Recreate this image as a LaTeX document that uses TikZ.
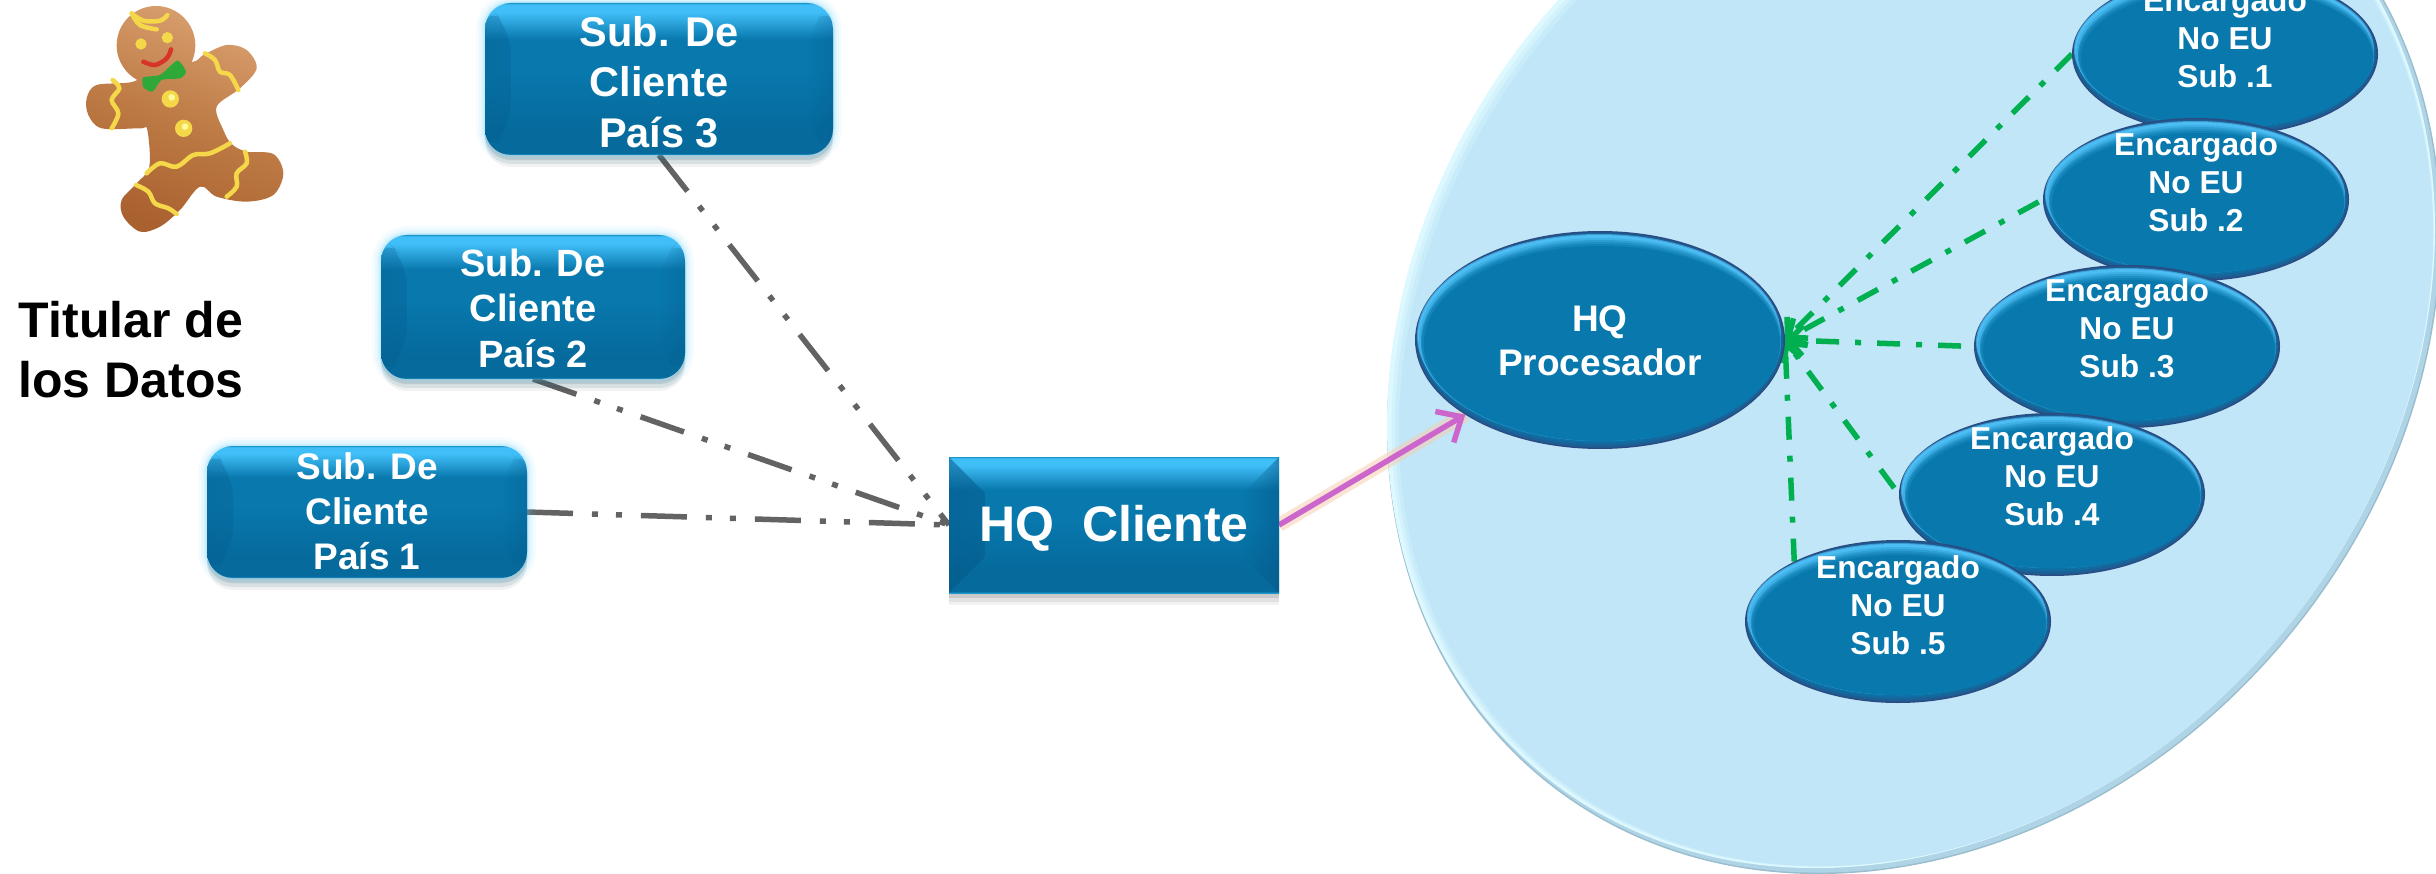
\documentclass[tikz,border=0pt]{standalone}
\usepackage{fontspec}
\setmainfont{Liberation Sans}
\usetikzlibrary{arrows.meta,calc,shapes.geometric,shadows,fadings}
\definecolor{body}{HTML}{0878AD}
\definecolor{bluetop}{HTML}{40BEF7}
\definecolor{bluerim}{HTML}{1B97CC}
\definecolor{bluelow}{HTML}{066A9C}
\definecolor{bevdark}{HTML}{05598A}
\definecolor{navy}{HTML}{2B4A80}
\definecolor{crescent}{HTML}{4CBDF3}
\definecolor{halo}{HTML}{5CCBF7}
\definecolor{sky}{HTML}{C0E6F8}
\definecolor{skyrim}{HTML}{DDF9FF}
\definecolor{skyedge}{HTML}{9ABDCE}
\definecolor{greyline}{HTML}{636363}
\definecolor{greenline}{HTML}{00B050}
\definecolor{pinkline}{HTML}{CC66CC}
\definecolor{pinkglow}{HTML}{F9CDB0}
\definecolor{icing}{HTML}{F4D84A}
\definecolor{cookielight}{HTML}{D9A070}
\definecolor{cookiemid}{HTML}{BE7B45}
\definecolor{cookiedark}{HTML}{A9612F}
\definecolor{mouthred}{HTML}{D8352A}
\definecolor{bowgreen}{HTML}{2FA83A}
\pgfdeclareverticalshading{bevelblue}{100bp}{%
 color(0bp)=(bluerim);color(25bp)=(bluerim);color(25.7bp)=(bluelow);color(33bp)=(bluelow);
 color(52bp)=(body);color(63bp)=(body);color(72bp)=(bluetop);color(74.5bp)=(bluetop);
 color(75bp)=(bluerim);color(100bp)=(bluerim)}
\pgfdeclarelayer{sheet}
\pgfdeclarelayer{links}
\pgfsetlayers{sheet,links,main}
% text of fixed size that does not change the size of its node
\newcommand\stack[4]{\makebox[0pt]{\raisebox{#1pt}[0pt][0pt]{\fontsize{#2}{#3}\selectfont\bfseries\color{white}\begin{tabular}{@{}c@{}}#4\end{tabular}}}}
\tikzset{
 softglow/.style={preaction={draw=halo,opacity=.06,line width=18pt},
   preaction={draw=halo,opacity=.08,line width=12pt},
   preaction={draw=halo,opacity=.12,line width=7pt},
   preaction={draw=halo,opacity=.2,line width=3pt}},
 sideshade/.style 2 args={path picture={
   \fill[bevdark,fill opacity=#2,path fading=east] (path picture bounding box.north west)
     -- ($(path picture bounding box.north west)+(#1,#1)$)
     -- ($(path picture bounding box.south west)+(#1,-#1)$)
     -- (path picture bounding box.south west) -- cycle;
   \fill[bevdark,fill opacity=#2,path fading=west] (path picture bounding box.north east)
     -- ($(path picture bounding box.north east)+(-#1,#1)$)
     -- ($(path picture bounding box.south east)+(-#1,-#1)$)
     -- (path picture bounding box.south east) -- cycle;}},
 softshadow/.style={
   general shadow={shadow xshift=0pt,shadow yshift=-12pt,fill=black,opacity=.05},
   general shadow={shadow xshift=0pt,shadow yshift=-9pt,fill=black,opacity=.07},
   general shadow={shadow xshift=0pt,shadow yshift=-5pt,fill=black,opacity=.1}},
 subbox/.style={rectangle,rounded corners=26pt,inner sep=0pt,outer sep=0pt,shade,shading=bevelblue,
   softshadow,softglow,sideshade={26}{.3}},
 hqbox/.style={rectangle,inner sep=0pt,outer sep=0pt,shade,shading=bevelblue,
   softshadow,sideshade={36}{.55}},
 ovalbase/.style 2 args={ellipse,inner sep=0pt,outer sep=0pt,minimum width=#1*2pt,minimum height=#2*2pt,
   fill=navy,path picture={
   \begin{scope}[shift={(path picture bounding box.center)}]
    \foreach \s/\t/\b/\x/\c in {
      1/1/1/0/navy!75!body, 2/2/2/0/navy!55!body, 3/3/4/0/navy!35!body, 4/4/6/0/navy!15!body,
      3/3/12/-1/crescent!70!navy, 4/4/12/-1/crescent, 4/7/8/0/crescent!80!body, 5/9/8/1/crescent!55!body,
      5/11/8/1/crescent!32!body, 6/13/8/1/crescent!14!body, 7/15/8/2/body}{
      \pgfmathsetmacro\rxx{#1-\s}
      \pgfmathsetmacro\ryy{#2-(\t+\b)/2}
      \pgfmathsetmacro\cyy{(\t-\b)/2}
      \fill[\c] (\x,\cyy) ellipse [x radius=\rxx,y radius=\ryy];
    }
   \end{scope}}},
 subnode/.style={ovalbase={153}{81.5}},
 mainoval/.style={ovalbase={185}{109}},
 greydash/.style={draw=greyline,line width=5.5pt,dash pattern=on 46pt off 19pt on 6pt off 18pt on 6pt off 19pt},
 greendash/.style={draw=greenline,line width=5.5pt,dash pattern=on 23pt off 16pt on 6pt off 16pt,
   -{Straight Barb[length=14pt,width=30pt,line width=5.5pt]}},
 titletext/.style={inner sep=0pt,align=center,font=\fontsize{50}{60}\selectfont\bfseries},
 icingline/.style={draw=icing,line width=4.5pt,line cap=round},
}
\begin{document}
\begin{tikzpicture}[x=1pt,y=-1pt]
\useasboundingbox (0,0) rectangle (2436,874);
% gingerbread figure
\begin{scope}[shift={(60,0)},scale=1/3]
 \shade[top color=cookielight,bottom color=cookiedark,middle color=cookiemid,shading angle=-20]
   (288,136) circle (118)
   plot[smooth cycle,tension=.55] coordinates {(400,185)(430,165)(500,135)(560,150)(590,205)(540,265)(470,320)(490,390)(515,432)(560,455)(640,462)(670,520)(640,585)(560,605)(470,590)(420,560)(360,630)(300,680)(240,695)(190,650)(185,600)(230,550)(268,500)(262,390)(240,385)(125,385)(85,345)(80,295)(110,255)(220,245)(288,200)};
 \draw[icingline] plot[smooth,tension=.6] coordinates {(215,40)(240,75)(290,88)};
 \draw[icingline] plot[smooth,tension=.6] coordinates {(215,40)(250,62)(300,62)(322,45)};
 \fill[icing] (243,132) circle (17) (322,113) circle (17) (331,297) circle (26) (371,385) circle (26);
 \fill[yellow!40!white] (335,292) circle (10) (375,380) circle (10);
 \draw[draw=mouthred,line width=4.5pt,line cap=round] plot[smooth,tension=.6] coordinates {(250,185)(285,195)(320,175)(333,148)};
 \fill[bowgreen] plot[smooth cycle,tension=.4] coordinates {(250,232)(300,225)(352,182)(378,215)(360,235)(305,240)(278,275)(250,262)};
 \draw[icingline] plot[smooth,tension=.6] coordinates {(158,240)(178,265)(155,300)(175,340)(155,385)};
 \draw[icingline] plot[smooth,tension=.6] coordinates {(435,160)(465,180)(480,215)(510,225)(535,270)};
 \draw[icingline] plot[smooth,tension=.6] coordinates {(260,520)(300,490)(350,500)(400,465)(450,460)(510,430)};
 \draw[icingline] plot[smooth,tension=.6] coordinates {(228,555)(265,575)(285,610)(325,625)(350,642)};
 \draw[icingline] plot[smooth,tension=.6] coordinates {(555,455)(560,490)(530,520)(530,560)(500,590)};
\end{scope}
\node[titletext] (titular) at (131,350) {Titular de\\los Datos};
% client side
\node[subbox,minimum width=348pt,minimum height=152pt] (pais3) at (659,79) {\stack{-14}{41.5}{50.7}{Sub. De\\Cliente\\País 3}};
\node[subbox,minimum width=304pt,minimum height=144pt] (pais2) at (533,307) {\stack{-12}{38}{45.5}{Sub. De\\Cliente\\País 2}};
\node[subbox,minimum width=320pt,minimum height=132pt] (pais1) at (367,512) {\stack{-10}{37}{45}{Sub. De\\Cliente\\País 1}};
\node[hqbox,minimum width=330pt,minimum height=136pt] (hq) at (1114,525) {\stack{-11}{50}{60}{HQ\ \ Cliente}};
% processor side
\node[mainoval] (proc) at (1600,340) {\stack{-11}{37}{44}{HQ\\Procesador}};
\node[subnode] (sub1) at (2225,54) {\stack{6}{31.7}{38}{Encargado\\No EU\\Sub .1}};
\node[subnode] (sub2) at (2196,199.5) {\stack{7}{31.7}{38}{Encargado\\No EU\\Sub .2}};
\node[subnode] (sub3) at (2127,346.5) {\stack{8}{31.7}{38}{Encargado\\No EU\\Sub .3}};
\node[subnode] (sub4) at (2052,494.5) {\stack{8}{31.7}{38}{Encargado\\No EU\\Sub .4}};
\node[subnode] (sub5) at (1898,621.5) {\stack{6}{31.7}{38}{Encargado\\No EU\\Sub .5}};
% connectors
\begin{pgfonlayer}{links}
 \draw[greydash] (pais3.south) -- (hq.west);
 \draw[greydash] (pais2.south) -- (hq.west);
 \draw[greydash] (pais1.east) -- (hq.west);
 \draw[greendash] (sub1.west) -- (proc.east);
 \draw[greendash,shorten <=5pt] (sub2.west) -- (proc.east);
 \draw[greendash,shorten <=13pt] (sub3.west) -- (proc.east);
 \draw[greendash,shorten <=8pt] (sub4.west) -- (proc.east);
 \draw[greendash] (sub5.150) -- (proc.east);
 \draw[draw=pinkglow,line width=14pt,opacity=.55] (hq.east) -- (proc.209);
 \draw[draw=pinkline,line width=5.5pt,-{Straight Barb[length=20pt,width=36pt,line width=5.5pt]}] (hq.east) -- (proc.209);
\end{pgfonlayer}
% the big sheet behind the processors
\begin{pgfonlayer}{sheet}
 \foreach \dx/\dy/\i/\c in {0/0/0/skyedge, 0/0/1.5/skyedge!45!sky, -3/-3/3/skyrim, -1.5/-1.5/6/skyrim!65!sky, 0/0/8/skyrim!30!sky, 2/2/10/sky}{
  \begin{scope}[shift={(1914+\dx,330+\dy)},rotate=50]
   \fill[\c] (0,0) ellipse [x radius=582.6-\i,y radius=484-\i];
  \end{scope}
 }
\end{pgfonlayer}
\end{tikzpicture}
\end{document}
